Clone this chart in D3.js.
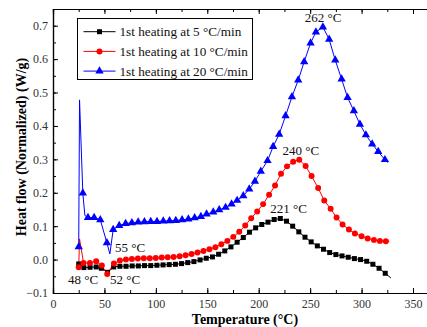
<!DOCTYPE html>
<html>
<head>
<meta charset="utf-8">
<script src="https://cdn.jsdelivr.net/npm/d3@7"></script>
<style>
  body { margin: 0; background: #fff; }
  svg { display: block; font-family: "Liberation Serif", "Times New Roman", serif; }
</style>
</head>
<body>
<div id="chart"></div>
<script>
// 1st heating at 5 °C/min (marked points)
const blackTemp = [25, 30, 36, 42, 47, 53, 59, 65, 71, 77, 83, 89, 95, 101, 107, 113, 119, 125, 131, 137, 143, 149, 155, 161, 167, 173, 179, 185, 191, 197, 203, 209, 215, 221, 227, 233, 239, 245, 251, 257, 263, 269, 275, 281, 287, 293, 299, 305, 311, 317, 323];
const blackFlow = [-0.013, -0.024, -0.023, -0.022, -0.026, -0.038, -0.022, -0.020, -0.020, -0.019, -0.019, -0.018, -0.018, -0.017, -0.016, -0.015, -0.014, -0.012, -0.009, -0.006, -0.001, 0.004, 0.008, 0.016, 0.026, 0.038, 0.052, 0.066, 0.082, 0.095, 0.105, 0.112, 0.120, 0.123, 0.115, 0.100, 0.083, 0.067, 0.053, 0.041, 0.031, 0.021, 0.015, 0.011, 0.007, 0.003, 0.000, -0.005, -0.014, -0.026, -0.041];
const blackExtraTemp = [328.5];
const blackExtraFlow = [-0.055];

// 1st heating at 10 °C/min
const redTemp = [25, 29.7, 35.9, 42, 47.5, 52.7, 59.2, 65, 70.9, 76.7, 82.5, 88.3, 94.1, 99.9, 105.7, 111.5, 117.3, 123.1, 128.9, 134.7, 140.5, 146.3, 152.1, 157.9, 163.7, 169.5, 175.3, 181.1, 186.9, 192.7, 198.5, 204.3, 210.1, 215.9, 221.7, 227.5, 233.5, 239.4, 245.6, 251.4, 257.8, 263.7, 269.9, 275.7, 281.5, 287.7, 293.5, 300, 305.9, 312, 317.8, 323.6];
const redFlow = [-0.023, -0.010, -0.010, -0.005, -0.018, -0.043, -0.012, -0.003, 0.000, 0.002, 0.003, 0.004, 0.004, 0.005, 0.006, 0.007, 0.008, 0.010, 0.013, 0.017, 0.021, 0.026, 0.031, 0.037, 0.046, 0.056, 0.068, 0.083, 0.102, 0.124, 0.144, 0.166, 0.194, 0.222, 0.257, 0.279, 0.293, 0.299, 0.280, 0.250, 0.214, 0.177, 0.152, 0.126, 0.105, 0.090, 0.078, 0.070, 0.063, 0.059, 0.056, 0.055];
const redExtraTemp = [25.8, 327];
const redExtraFlow = [0.062, 0.055];

// 1st heating at 20 °C/min
const blueTemp = [25, 29, 34, 40, 46, 52.4, 58.5, 64.4, 70.6, 76.7, 82.8, 88.9, 95, 101.1, 107.2, 113.3, 119.4, 125.5, 131.6, 137.7, 143.8, 149.3, 155.8, 161.6, 167.8, 173.6, 179, 185, 190.8, 196.3, 202, 208.6, 214, 219.9, 226.1, 232.3, 238.4, 244.2, 250.4, 255.6, 262.4, 268.5, 274.4, 280.6, 286.4, 292.5, 298.4, 304.2, 310.3, 316.2, 322.7];
const blueFlow = [0.038, 0.199, 0.126, 0.126, 0.119, 0.050, 0.090, 0.102, 0.108, 0.110, 0.112, 0.113, 0.114, 0.114, 0.115, 0.116, 0.117, 0.119, 0.121, 0.125, 0.129, 0.136, 0.142, 0.149, 0.156, 0.166, 0.177, 0.191, 0.211, 0.234, 0.264, 0.296, 0.338, 0.375, 0.430, 0.487, 0.537, 0.592, 0.648, 0.681, 0.696, 0.659, 0.597, 0.540, 0.485, 0.445, 0.405, 0.373, 0.346, 0.323, 0.299];
const blueExtraTemp = [25.8, 31, 55.3, 325.6];
const blueExtraFlow = [0.478, 0.132, 0.017, 0.290];

const seriesNames = ["1st heating at 5 \u00B0C/min", "1st heating at 10 \u00B0C/min", "1st heating at 20 \u00B0C/min"];
const seriesColors = ["#000000", "#ff0000", "#0000ff"];
const seriesShapes = [d3.symbolSquare, d3.symbolCircle, d3.symbolTriangle];

const xTicks = [0, 50, 100, 150, 200, 250, 300, 350];
const yTicks = [-0.1, 0.0, 0.1, 0.2, 0.3, 0.4, 0.5, 0.6, 0.7];

const annotations = [
    { text: "262 \u00B0C", t: 262.5, v: 0.711 },
    { text: "240 \u00B0C", t: 241, v: 0.313 },
    { text: "221 \u00B0C", t: 229, v: 0.139 },
    { text: "55 \u00B0C", t: 75, v: 0.0235 },
    { text: "48 \u00B0C", t: 29.2, v: -0.073 },
    { text: "52 \u00B0C", t: 70, v: -0.073 }
];

const width = 427;
const height = 327;
const margin = { left: 53, top: 9, bottom: 34 };

const x = d3.scaleLinear().domain([0, 374.3]).range([margin.left, margin.left + 385]);
const y = d3.scaleLinear().domain([-0.1, 0.75]).range([height - margin.bottom, margin.top]);

const svg = d3.select("#chart")
    .append("svg")
    .attr("width", width)
    .attr("height", height);

const merge = (t, v, et, ev) => {
    const pts = t.map((d, i) => [d, v[i]]).concat(et.map((d, i) => [d, ev[i]]));
    return pts.sort((a, b) => a[0] - b[0]);
};

const series = [
    { line: merge(blackTemp, blackFlow, blackExtraTemp, blackExtraFlow), marks: blackTemp.map((d, i) => [d, blackFlow[i]]) },
    { line: merge(redTemp, redFlow, redExtraTemp, redExtraFlow), marks: redTemp.map((d, i) => [d, redFlow[i]]) },
    { line: merge(blueTemp, blueFlow, blueExtraTemp, blueExtraFlow), marks: blueTemp.map((d, i) => [d, blueFlow[i]]) }
];

// axes: ticks point inward on all four sides
const xMinor = d3.range(0, 375, 25);
const yMinor = d3.range(-0.1, 0.751, 0.05);

const axisG = svg.append("g");

const bottomAxis = axisG.append("g").attr("transform", `translate(0,${y(-0.1)})`)
    .call(d3.axisBottom(x).tickValues(xMinor).tickSize(-3).tickFormat(""));
bottomAxis.append("g").call(d3.axisBottom(x).tickValues(xTicks).tickSize(-5).tickPadding(6).tickFormat(d3.format("d")));

const topAxis = axisG.append("g").attr("transform", `translate(0,${y(0.75)})`)
    .call(d3.axisTop(x).tickValues(xMinor).tickSize(-3).tickFormat(""));
topAxis.append("g").call(d3.axisTop(x).tickValues(xTicks).tickSize(-5).tickFormat(""));

const leftAxis = axisG.append("g").attr("transform", `translate(${x(0)},0)`)
    .call(d3.axisLeft(y).tickValues(yMinor).tickSize(-3).tickFormat(""));
leftAxis.append("g").call(d3.axisLeft(y).tickValues(yTicks).tickSize(-5).tickPadding(5).tickFormat(d3.format(".1f")));

axisG.append("g").attr("transform", `translate(${x(374.3)},0)`)
    .call(d3.axisRight(y).tickValues(yMinor).tickSize(-3).tickFormat(""));

axisG.selectAll(".domain").attr("stroke", "#000").attr("stroke-width", 1.2);
axisG.selectAll(".tick line").attr("stroke", "#000");
axisG.selectAll(".tick text")
    .attr("fill", "#333")
    .style("font-size", "12px")
    .style("font-family", "Liberation Serif");

// curves
const line = d3.line().x(d => x(d[0])).y(d => y(d[1]));

series.forEach((s, i) => {
    svg.append("path")
        .datum(s.line)
        .attr("fill", "none")
        .attr("stroke", seriesColors[i])
        .attr("stroke-width", 1)
        .attr("d", line);
});

const symbolSizes = [25, 28, 30];

series.forEach((s, i) => {
    svg.append("g")
        .selectAll("path")
        .data(s.marks)
        .join("path")
        .attr("transform", d => `translate(${x(d[0])},${y(d[1])})`)
        .attr("d", d3.symbol().type(seriesShapes[i]).size(symbolSizes[i]))
        .attr("fill", seriesColors[i]);
});

// peak annotations
svg.append("g")
    .selectAll("text")
    .data(annotations)
    .join("text")
    .attr("x", d => x(d.t))
    .attr("y", d => y(d.v))
    .attr("text-anchor", "middle")
    .style("font-size", "13px")
    .attr("fill", "#111")
    .text(d => d.text);

// legend
const legend = svg.append("g").attr("transform", "translate(77.5,18.5)");
legend.append("rect")
    .attr("width", 175)
    .attr("height", 61)
    .attr("fill", "#fff")
    .attr("stroke", "#000")
    .attr("stroke-width", 1);

seriesNames.forEach((name, i) => {
    const row = legend.append("g").attr("transform", `translate(0,${13.2 + i * 19.7})`);
    row.append("line")
        .attr("x1", 6).attr("x2", 38)
        .attr("stroke", seriesColors[i])
        .attr("stroke-width", 1);
    row.append("path")
        .attr("transform", "translate(22,0)")
        .attr("d", d3.symbol().type(seriesShapes[i]).size(symbolSizes[i]))
        .attr("fill", seriesColors[i]);
    row.append("text")
        .attr("x", 42)
        .attr("y", 4.5)
        .style("font-size", "13.2px")
        .attr("fill", "#111")
        .text(name);
});

// axis titles
svg.append("text")
    .attr("x", 245)
    .attr("y", 324)
    .attr("text-anchor", "middle")
    .style("font-size", "14px")
    .style("font-weight", "bold")
    .text("Temperature (\u00B0C)");

svg.append("text")
    .attr("transform", "translate(26,147) rotate(-90)")
    .attr("text-anchor", "middle")
    .style("font-size", "14px")
    .style("font-weight", "bold")
    .text("Heat flow (Normalized) (W/g)");
</script>
</body>
</html>
